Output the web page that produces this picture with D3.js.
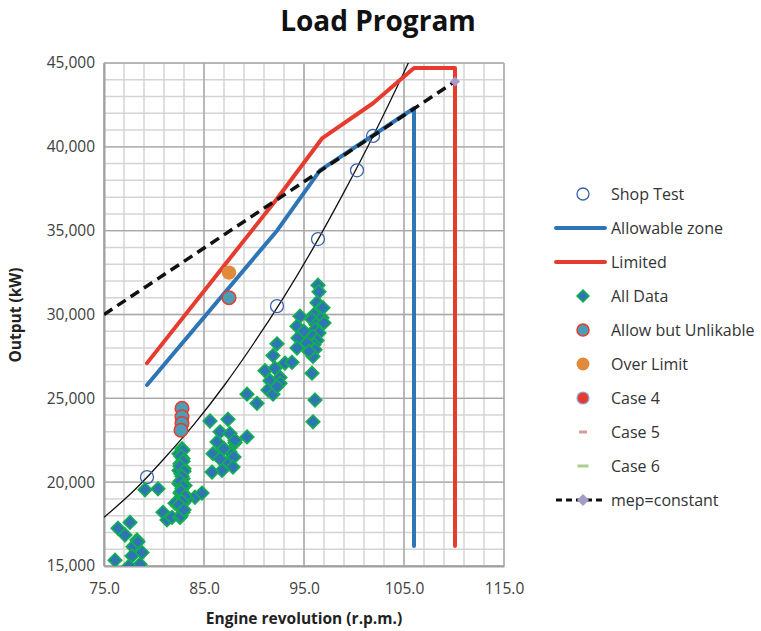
<!DOCTYPE html>
<html>
<head>
<meta charset="utf-8">
<script src="https://cdn.jsdelivr.net/npm/d3@7"></script>
<style>
  html, body { margin: 0; padding: 0; background: #fff; }
  svg { display: block; font-family: "Open Sans", "Noto Sans", sans-serif; }
</style>
</head>
<body>
<svg id="chart" width="761" height="631"></svg>
<script>
// ---- data -------------------------------------------------------------
const chartTitle = "Load Program";
const xTitle = "Engine revolution (r.p.m.)";
const yTitle = "Output (kW)";

const xTicks = [75, 85, 95, 105, 115];
const yTicks = [15000, 20000, 25000, 30000, 35000, 40000, 45000];

// Shop test points
const shopRpm = [79.3, 92.3, 96.4, 100.3, 101.9];
const shopKw  = [20300, 30500, 34500, 38600, 40650];

// Trend curve through shop test results
const trendRpm = [75, 78, 81, 84, 87, 90, 93, 96, 99, 102, 105, 106];
const trendKw  = [17900, 19500, 21400, 23450, 25750, 28300, 31050, 34050, 37300, 40750, 44450, 45750];

// Allowable zone boundary
const allowRpm = [79.3, 92.3, 96.6, 106.0, 106.0];
const allowKw  = [25800, 35000, 38600, 42300, 16200];

// Limited boundary
const limitRpm = [79.3, 92.3, 96.8, 101.9, 106.0, 110.1, 110.1];
const limitKw  = [27100, 36900, 40500, 42600, 44700, 44700, 16200];

// mep = constant line
const mepRpm = [75, 110.1];
const mepKw  = [30000, 43900];

// Operating records
const dataRpm = [
  76.1, 76.4, 77.6, 77.1, 78.3, 77.9, 78.4, 78.8, 77.8, 78.6, 77.5, 79.1, 80.4,
  80.9, 81.3, 81.8, 82.6, 82.6, 84.1, 84.8, 82.9, 82.1, 83.3,
  82.8, 82.5, 82.9, 82.6, 83.0, 82.7, 82.9, 82.5, 82.8, 83.0, 82.6, 82.9, 82.7, 82.5, 82.9, 83.1,
  82.7, 82.9, 82.6, 83.0, 82.8, 82.6, 82.9, 82.7, 83.1, 82.8, 82.5, 83.0,
  85.6, 87.4, 86.6, 87.6, 86.3, 88.1, 86.8, 85.9, 87.6, 89.3, 87.4, 86.8, 85.8, 87.0, 86.6, 88.0, 87.9, 88.1,
  89.3, 90.3, 91.1, 91.9, 92.3, 91.6, 91.4, 92.1, 92.6, 93.1, 93.8, 92.6, 91.9, 92.3,
  96.4, 96.5, 96.3, 96.6, 96.0, 96.8, 95.8, 96.2, 96.1, 96.5, 95.9, 96.3, 96.0, 96.1, 95.9,
  94.6, 94.3, 94.4, 94.3, 95.3, 95.0, 95.5, 95.8, 96.1, 95.9, 97.0, 96.9
];
const dataKw = [
  15350, 17250, 17600, 16850, 16550, 16150, 16450, 15800, 15600, 15100, 15000, 19550, 19600,
  18200, 17750, 17900, 17900, 19350, 19100, 19350, 18750, 18750, 19000,
  22000, 21700, 21400, 21100, 20800, 20500, 20200, 19900, 19600, 19300, 18500, 18200, 18000, 20700, 21900, 19800,
  21550, 21250, 20950, 20650, 20350, 20050, 19750, 19450, 19150, 18850, 18650, 18350,
  23650, 23750, 23000, 22900, 22400, 22350, 21900, 21700, 21800, 22700, 21200, 20700, 20600, 22000, 21400, 21500, 20900, 22500,
  25250, 24700, 26650, 27550, 28250, 26050, 25500, 26800, 26250, 27100, 27150, 25900, 25250, 25700,
  31750, 31350, 30700, 30300, 30000, 29800, 29700, 29400, 29100, 28900, 28700, 28450, 28200, 27900, 27500,
  29900, 29300, 28600, 28000, 28300, 29000, 27800, 26500, 24900, 23600, 29500, 30400
];

// Allow but unlikable points
const unlikRpm = [87.5, 82.8, 82.8, 82.8, 82.7];
const unlikKw  = [31000, 24400, 23900, 23500, 23100];

// Over limit point
const overRpm = [87.5];
const overKw  = [32500];

const legendLabels = ["Shop Test", "Allowable zone", "Limited", "All Data", "Allow but Unlikable",
                      "Over Limit", "Case 4", "Case 5", "Case 6", "mep=constant"];

// ---- colours ----------------------------------------------------------
const C = {
  blue: "#2E75B6", red: "#E63B2E", shop: "#3A62AE", green: "#12B04E",
  teal: "#4D9DB4", orange: "#E18A3C", purple: "#A59BC9",
  case5: "#DB9A98", case6: "#AACF8C", grid: "#D4D4D4", gridMajor: "#A8A8A8", axis: "#A0A0A0", text: "#404040"
};

// ---- layout -----------------------------------------------------------
const svg = d3.select("#chart");
const x = d3.scaleLinear().domain([75, 115]).range([104, 504]);
const y = d3.scaleLinear().domain([15000, 45000]).range([566, 63]);

// Gridlines: minor first, majors drawn over them
const grid = svg.append("g");
d3.range(75, 115.01, 2).forEach(v => {
  grid.append("line").attr("x1", x(v)).attr("x2", x(v)).attr("y1", y(15000)).attr("y2", y(45000))
    .attr("stroke", C.grid).attr("stroke-width", 1.5);
});
d3.range(15000, 45001, 1000).forEach(v => {
  grid.append("line").attr("y1", y(v)).attr("y2", y(v)).attr("x1", x(75)).attr("x2", x(115))
    .attr("stroke", C.grid).attr("stroke-width", 1.5);
});
d3.range(75, 115.01, 10).forEach(v => {
  grid.append("line").attr("x1", x(v)).attr("x2", x(v)).attr("y1", y(15000)).attr("y2", y(45000))
    .attr("stroke", C.gridMajor).attr("stroke-width", 1.4);
});
d3.range(15000, 45001, 5000).forEach(v => {
  grid.append("line").attr("y1", y(v)).attr("y2", y(v)).attr("x1", x(75)).attr("x2", x(115))
    .attr("stroke", C.gridMajor).attr("stroke-width", 1.4);
});

// Axes
const xAxis = svg.append("g").attr("transform", `translate(0,${y(15000)})`)
  .call(d3.axisBottom(x).tickValues(xTicks).tickFormat(d3.format(".1f")).tickSize(0).tickPadding(17));
const yAxis = svg.append("g").attr("transform", `translate(${x(75)},0)`)
  .call(d3.axisLeft(y).tickValues(yTicks).tickFormat(d3.format(",")).tickSize(0).tickPadding(9));
[xAxis, yAxis].forEach(a => {
  a.select(".domain").attr("stroke", C.axis).attr("stroke-width", 2);
  a.selectAll("text").attr("font-size", 15.5).attr("fill", C.text).attr("font-family", "Open Sans");
});

// Clip to plot area
svg.append("clipPath").attr("id", "plot").append("rect")
  .attr("x", x(75)).attr("y", y(45000)).attr("width", x(115) - x(75)).attr("height", y(15000) - y(45000));
const plot = svg.append("g").attr("clip-path", "url(#plot)");

const lineGen = d3.line().x(d => x(d[0])).y(d => y(d[1]));
const zip = (a, b) => a.map((v, i) => [v, b[i]]);

// Trend curve
plot.append("path").datum(zip(trendRpm, trendKw))
  .attr("d", lineGen.curve(d3.curveNatural)).attr("fill", "none").attr("stroke", "#111").attr("stroke-width", 1.3);
lineGen.curve(d3.curveLinear);

// Shop test markers
plot.selectAll(".shop").data(zip(shopRpm, shopKw)).join("circle")
  .attr("cx", d => x(d[0])).attr("cy", d => y(d[1])).attr("r", 6.5)
  .attr("fill", "none").attr("stroke", C.shop).attr("stroke-width", 1.3);

// Boundary lines
plot.append("path").datum(zip(allowRpm, allowKw)).attr("d", lineGen)
  .attr("fill", "none").attr("stroke", C.blue).attr("stroke-width", 4).attr("stroke-linecap", "round").attr("stroke-linejoin", "round");
plot.append("path").datum(zip(limitRpm, limitKw)).attr("d", lineGen)
  .attr("fill", "none").attr("stroke", C.red).attr("stroke-width", 4).attr("stroke-linecap", "round").attr("stroke-linejoin", "round");

// Diamond marker path
const diamond = r => `M0,${-r}L${r},0L0,${r}L${-r},0Z`;

plot.selectAll(".pt").data(zip(dataRpm, dataKw)).join("path")
  .attr("transform", d => `translate(${x(d[0])},${y(d[1])})`).attr("d", diamond(6.8))
  .attr("fill", C.blue).attr("stroke", C.green).attr("stroke-width", 1.6);

plot.selectAll(".unlik").data(zip(unlikRpm, unlikKw)).join("circle")
  .attr("cx", d => x(d[0])).attr("cy", d => y(d[1])).attr("r", 6.8)
  .attr("fill", C.teal).attr("stroke", C.red).attr("stroke-width", 1.5);

plot.selectAll(".over").data(zip(overRpm, overKw)).join("circle")
  .attr("cx", d => x(d[0])).attr("cy", d => y(d[1])).attr("r", 7.2)
  .attr("fill", C.orange);

// mep = constant
plot.append("path").datum(zip(mepRpm, mepKw)).attr("d", lineGen)
  .attr("fill", "none").attr("stroke", "#111").attr("stroke-width", 3.5).attr("stroke-dasharray", "10,6");
svg.append("path").attr("transform", `translate(${x(mepRpm[1])},${y(mepKw[1])})`).attr("d", diamond(5))
  .attr("fill", C.purple);

// Titles
svg.append("text").attr("x", 378).attr("y", 31).attr("text-anchor", "middle")
  .attr("font-size", 28).attr("font-weight", "bold").attr("fill", "#111").text(chartTitle);
svg.append("text").attr("x", 304).attr("y", 624).attr("text-anchor", "middle")
  .attr("font-size", 15.5).attr("font-weight", "bold").attr("fill", "#222").text(xTitle);
svg.append("text").attr("transform", "translate(21,315) rotate(-90)").attr("text-anchor", "middle")
  .attr("font-size", 15.5).attr("font-weight", "bold").attr("fill", "#222").text(yTitle);

// Legend
const lg = svg.append("g");
const lx = 583, ly0 = 194, step = 34, tx = 611;
legendLabels.forEach((lab, i) => {
  const cy = ly0 + i * step;
  const g = lg.append("g");
  switch (i) {
    case 0: g.append("circle").attr("cx", lx).attr("cy", cy).attr("r", 6).attr("fill", "none").attr("stroke", C.shop).attr("stroke-width", 1.3); break;
    case 1: g.append("line").attr("x1", 556).attr("x2", 605).attr("y1", cy).attr("y2", cy).attr("stroke", C.blue).attr("stroke-width", 4).attr("stroke-linecap", "round"); break;
    case 2: g.append("line").attr("x1", 556).attr("x2", 605).attr("y1", cy).attr("y2", cy).attr("stroke", C.red).attr("stroke-width", 4).attr("stroke-linecap", "round"); break;
    case 3: g.append("path").attr("transform", `translate(${lx},${cy})`).attr("d", diamond(6)).attr("fill", C.blue).attr("stroke", C.green).attr("stroke-width", 1.5); break;
    case 4: g.append("circle").attr("cx", lx).attr("cy", cy).attr("r", 6).attr("fill", C.teal).attr("stroke", C.red).attr("stroke-width", 1.5); break;
    case 5: g.append("circle").attr("cx", lx).attr("cy", cy).attr("r", 6.5).attr("fill", C.orange); break;
    case 6: g.append("circle").attr("cx", lx).attr("cy", cy).attr("r", 6).attr("fill", C.red).attr("stroke", "#8FA9D9").attr("stroke-width", 1.2); break;
    case 7: g.append("rect").attr("x", lx - 4).attr("y", cy - 1.5).attr("width", 8).attr("height", 3).attr("fill", C.case5); break;
    case 8: g.append("rect").attr("x", lx - 5.5).attr("y", cy - 1.5).attr("width", 11).attr("height", 3).attr("fill", C.case6); break;
    case 9:
      g.append("line").attr("x1", 556).attr("x2", 605).attr("y1", cy).attr("y2", cy).attr("stroke", "#111").attr("stroke-width", 3).attr("stroke-dasharray", "6,4");
      g.append("path").attr("transform", `translate(${lx},${cy})`).attr("d", diamond(6)).attr("fill", C.purple);
      break;
  }
  lg.append("text").attr("x", tx).attr("y", cy).attr("dy", "0.35em")
    .attr("font-size", 16).attr("fill", "#333").text(lab);
});
</script>
</body>
</html>
